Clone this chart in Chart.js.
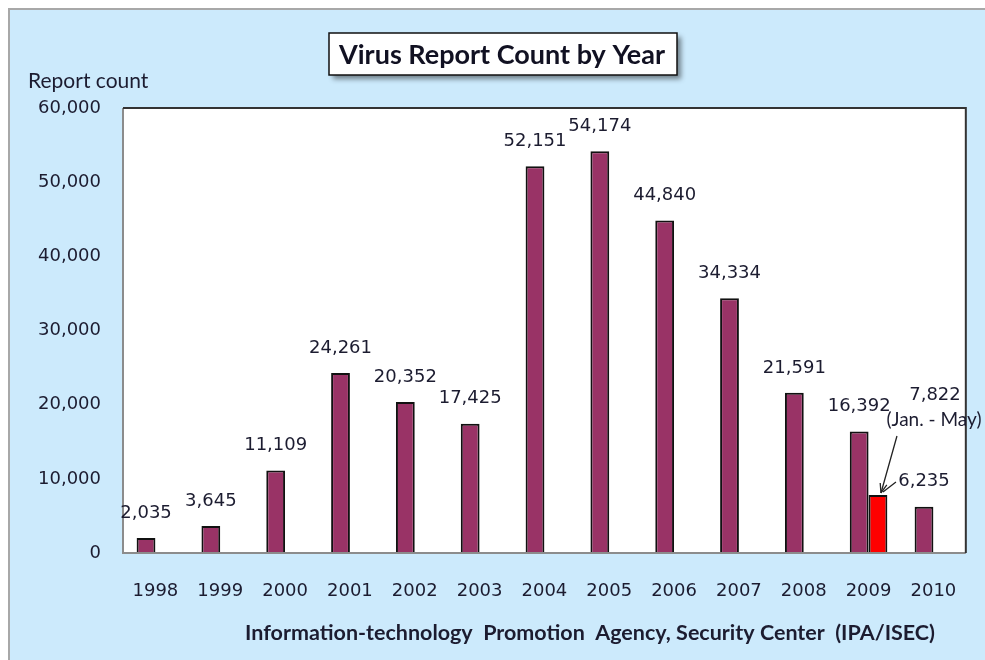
<!DOCTYPE html>
<html lang="en">
<head>
    <meta charset="UTF-8">
    <title>Virus Report Count by Year</title>
    <style>
        html, body { margin: 0; padding: 0; background: #fff; }
        #wrap { width: 985px; height: 660px; }
    </style>
    <script src="https://cdn.jsdelivr.net/npm/chart.js"></script>
</head>
<body>
    <div id="wrap"><canvas id="virusChart" width="985" height="660"></canvas></div>
    <script>
        // categories and values
        const years = ['1998', '1999', '2000', '2001', '2002', '2003', '2004',
                       '2005', '2006', '2007', '2008', '2009', '2010'];
        const reports = [2035, 3645, 11109, 24261, 20352, 17425, 52151,
                         54174, 44840, 34334, 21591, 16392, 6235];
        // Jan. - May of 2009, only one value
        const janMay = [null, null, null, null, null, null, null,
                        null, null, null, null, 7822, null];
        const yTicks = [0, 10000, 20000, 30000, 40000, 50000, 60000];

        const chartTitle = 'Virus Report Count by Year';
        const yTitle = 'Report count';
        const footer = 'Information-technology  Promotion  Agency, Security Center  (IPA/ISEC)';
        const janMayNote = '(Jan. - May)';

        const fmt = v => v.toLocaleString('en-US');
        const tickFont = '"DejaVu Sans", Verdana, sans-serif';
        const textColor = '#1c1c30';

        // frame, plot background, texts and labels
        const decor = {
            id: 'decor',
            beforeDraw(chart) {
                const ctx = chart.ctx;
                const a = chart.chartArea;
                ctx.save();
                ctx.fillStyle = '#ffffff';
                ctx.fillRect(0, 0, chart.width, chart.height);
                ctx.fillStyle = '#cceafc';
                ctx.fillRect(8, 8, chart.width, chart.height);
                ctx.strokeStyle = '#a8a8a8';
                ctx.lineWidth = 2;
                ctx.beginPath();
                ctx.moveTo(9, chart.height);
                ctx.lineTo(9, 9);
                ctx.lineTo(chart.width, 9);
                ctx.stroke();
                ctx.fillStyle = '#ffffff';
                ctx.fillRect(a.left, a.top, a.right - a.left, a.bottom - a.top);
                ctx.restore();
            },
            afterDatasetsDraw(chart) {
                const ctx = chart.ctx;
                const a = chart.chartArea;
                ctx.save();
                // plot border
                ctx.lineWidth = 2;
                ctx.strokeStyle = '#8c8c8c';
                ctx.beginPath();
                ctx.moveTo(a.left, a.top);
                ctx.lineTo(a.left, a.bottom);
                ctx.lineTo(a.right, a.bottom);
                ctx.stroke();
                ctx.strokeStyle = '#333333';
                ctx.beginPath();
                ctx.moveTo(a.left, a.top);
                ctx.lineTo(a.right, a.top);
                ctx.lineTo(a.right, a.bottom);
                ctx.stroke();

                // value labels
                ctx.fillStyle = textColor;
                ctx.font = '18px ' + tickFont;
                ctx.textAlign = 'center';
                ctx.textBaseline = 'middle';
                chart.getDatasetMeta(0).data.forEach((bar, i) => {
                    ctx.fillText(fmt(reports[i]), bar.x, bar.y - 25);
                });

                // the Jan. - May note with its arrow
                chart.getDatasetMeta(1).data.forEach((bar, i) => {
                    if (janMay[i] == null) return;
                    ctx.fillText(fmt(janMay[i]), bar.x + 57, bar.y - 100);
                    ctx.font = '19px Lato, sans-serif';
                    ctx.fillText(janMayNote, bar.x + 56, bar.y - 75);
                    ctx.strokeStyle = '#222';
                    ctx.lineWidth = 1.3;
                    const x0 = bar.x + 19, y0 = bar.y - 59;
                    const x1 = bar.x + 3, y1 = bar.y - 2;
                    ctx.beginPath();
                    ctx.moveTo(x0, y0);
                    ctx.lineTo(x1, y1);
                    ctx.moveTo(bar.x + 18, bar.y - 13);
                    ctx.lineTo(bar.x + 5, bar.y - 3);
                    ctx.stroke();
                    const ang = Math.atan2(y1 - y0, x1 - x0);
                    ctx.beginPath();
                    ctx.moveTo(x1, y1);
                    ctx.lineTo(x1 - 10 * Math.cos(ang - 0.35), y1 - 10 * Math.sin(ang - 0.35));
                    ctx.moveTo(x1, y1);
                    ctx.lineTo(x1 - 10 * Math.cos(ang + 0.35), y1 - 10 * Math.sin(ang + 0.35));
                    ctx.stroke();
                });
                ctx.restore();
            },
            afterDraw(chart) {
                const ctx = chart.ctx;
                ctx.save();
                // title box
                ctx.shadowColor = 'rgba(0,0,0,0.45)';
                ctx.shadowBlur = 5;
                ctx.shadowOffsetX = 4;
                ctx.shadowOffsetY = 4;
                ctx.fillStyle = '#ffffff';
                ctx.fillRect(329, 33, 348, 42);
                ctx.shadowColor = 'transparent';
                ctx.strokeStyle = '#111';
                ctx.lineWidth = 1.5;
                ctx.strokeRect(329, 33, 348, 42);
                ctx.fillStyle = '#111122';
                ctx.textAlign = 'center';
                ctx.textBaseline = 'middle';
                ctx.font = 'bold 27px Lato, sans-serif';
                ctx.fillText(chartTitle, 502, 55);

                ctx.fillStyle = textColor;
                ctx.textAlign = 'left';
                ctx.font = '21px Lato, sans-serif';
                ctx.fillText(yTitle, 28, 81);

                ctx.textAlign = 'center';
                ctx.font = 'bold 21.5px Lato, sans-serif';
                ctx.fillText(footer, 590, 633);
                ctx.restore();
            }
        };

        new Chart(document.getElementById('virusChart'), {
            type: 'bar',
            data: {
                labels: years,
                datasets: [{
                    label: 'Reports',
                    data: reports,
                    backgroundColor: '#993366',
                    borderColor: '#111111',
                    borderWidth: 2,
                    borderSkipped: 'bottom'
                }, {
                    label: 'Jan. - May',
                    data: janMay,
                    backgroundColor: '#ff0000',
                    borderColor: '#111111',
                    borderWidth: 2,
                    borderSkipped: 'bottom'
                }]
            },
            options: {
                responsive: false,
                animation: false,
                events: [],
                categoryPercentage: 0.58,
                barPercentage: 1.0,
                layout: { padding: { left: 8, right: 18, top: 108, bottom: 0 } },
                plugins: {
                    legend: { display: false },
                    title: { display: false },
                    tooltip: { enabled: false }
                },
                scales: {
                    x: {
                        grid: { display: false, drawTicks: false },
                        border: { display: false },
                        ticks: {
                            padding: 28,
                            color: textColor,
                            font: { family: tickFont, size: 18 }
                        },
                        afterFit: s => { s.height = 107; }
                    },
                    y: {
                        min: 0,
                        max: 60000,
                        afterBuildTicks: s => { s.ticks = yTicks.map(v => ({ value: v })); },
                        grid: { display: false, drawTicks: false },
                        border: { display: false },
                        ticks: {
                            padding: 22,
                            color: textColor,
                            font: { family: tickFont, size: 18 },
                            callback: v => fmt(v)
                        },
                        afterFit: s => { s.width = 115; }
                    }
                }
            },
            plugins: [decor]
        });
    </script>
</body>
</html>
